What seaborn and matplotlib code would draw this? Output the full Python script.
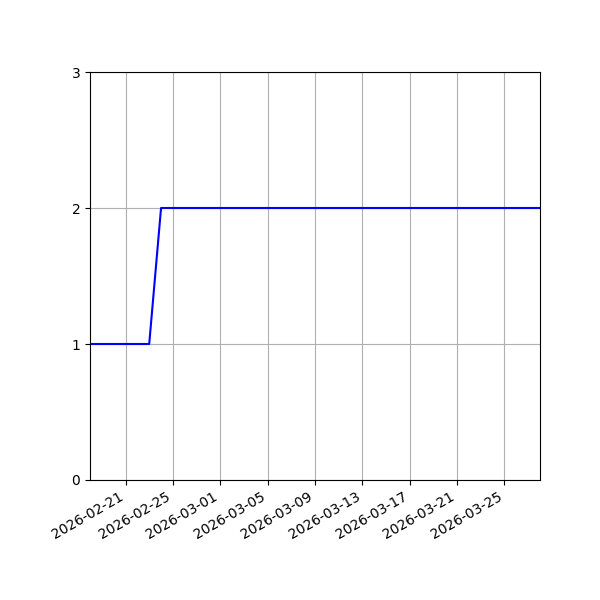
import numpy as np
import pandas as pd
import matplotlib
matplotlib.use('Agg')
import matplotlib.pyplot as plt
import seaborn as sns

# ── Datos ────────────────────────────────────────────────────────
fechas = pd.date_range('2026-02-18', '2026-03-28', freq='D')
valores = [1] * 6 + [2] * (len(fechas) - 6)

df = pd.DataFrame({'fecha': fechas, 'valor': valores})

# ── Figura ───────────────────────────────────────────────────────
fig, ax = plt.subplots(figsize=(6, 6), dpi=100)
sns.lineplot(data=df, x='fecha', y='valor', color='blue', ax=ax)

ax.set_xlim(fechas[0], fechas[-1])
ax.set_ylim(0, 3)
ax.set_yticks([0, 1, 2, 3])
ax.set_xlabel('')
ax.set_ylabel('')
ax.grid(True)

fig.autofmt_xdate()
plt.subplots_adjust(left=0.15, right=0.9, top=0.88, bottom=0.2)
plt.savefig('out.png', dpi=100)
